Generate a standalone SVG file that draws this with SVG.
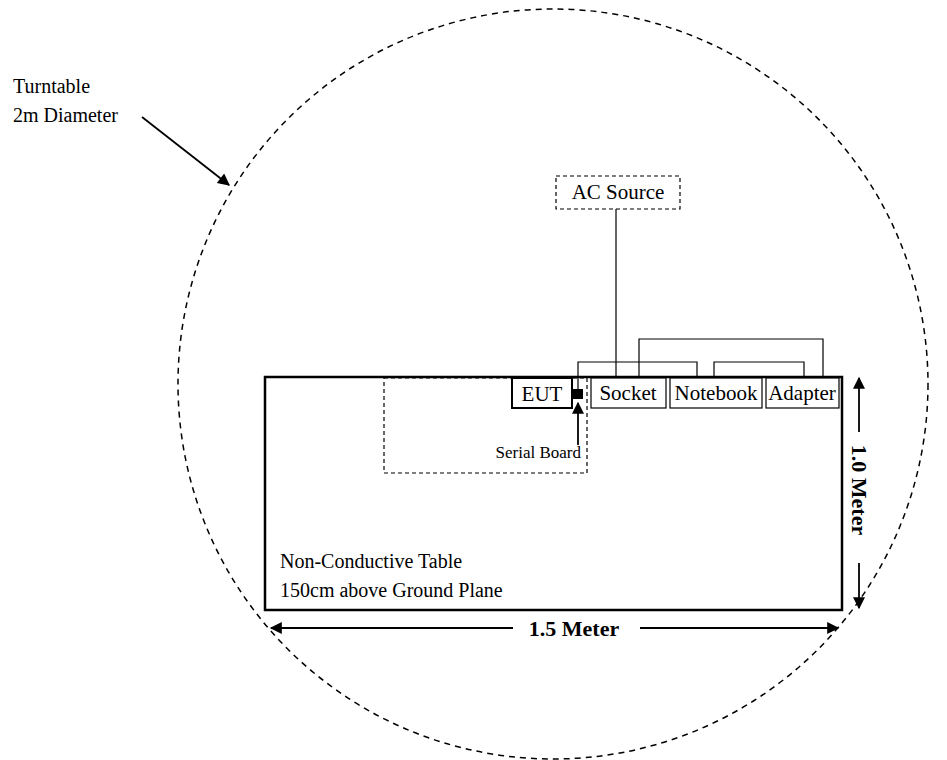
<svg xmlns="http://www.w3.org/2000/svg" width="947" height="760" viewBox="0 0 947 760">
<style>
text{font-family:"Liberation Serif","Times New Roman",serif;fill:#000}
.t{font-size:20px}
.l{font-size:21px}
.b{font-size:22px;font-weight:bold}
.box{fill:#fff;stroke:#000;stroke-width:1.2}
.dash{fill:none;stroke:#000;stroke-width:1.2;stroke-dasharray:4 3}
.w{fill:none;stroke:#000;stroke-width:1.2}
.arr{fill:none;stroke:#000;stroke-width:1.8}
</style>
<defs>
<marker id="ahb" viewBox="0 0 10 10" refX="9" refY="5" markerWidth="14" markerHeight="12" markerUnits="userSpaceOnUse" orient="auto">
<path d="M0,0 L10,5 L0,10 z" fill="#000"/>
</marker>
</defs>
<rect width="947" height="760" fill="#fff"/>
<g id="turntable">
<circle cx="553" cy="384" r="375" fill="none" stroke="#000" stroke-width="1.5" stroke-dasharray="6 5"/>
<text class="t" x="13" y="93">Turntable</text>
<text class="t" x="13" y="122">2m Diameter</text>
</g>
<g id="table">
<rect x="265" y="377" width="577" height="233" fill="none" stroke="#000" stroke-width="2.5"/>
<text class="t" x="280" y="568">Non-Conductive Table</text>
<text class="t" x="280" y="597">150cm above Ground Plane</text>
</g>
<g id="serial-board">
<rect class="dash" x="384" y="378" width="203" height="95"/>
<text x="581" y="458" font-size="17" text-anchor="end">Serial Board</text>
<rect x="573" y="389" width="10" height="10" fill="#000"/>
</g>
<g id="eut">
<rect x="512" y="378" width="60" height="30" fill="#fff" stroke="#000" stroke-width="2"/>
<text class="l" x="542" y="401" text-anchor="middle">EUT</text>
</g>
<g id="ac-source">
<rect class="dash" x="556" y="176" width="124" height="33" fill="#fff"/>
<text class="l" x="618" y="199" text-anchor="middle">AC Source</text>
</g>
<g id="socket">
<rect class="box" x="591" y="378" width="75" height="30"/>
<text class="l" x="628" y="400" text-anchor="middle">Socket</text>
</g>
<g id="notebook">
<rect class="box" x="670" y="378" width="92" height="30"/>
<text class="l" x="716" y="400" text-anchor="middle">Notebook</text>
</g>
<g id="adapter">
<rect class="box" x="766" y="378" width="73" height="30"/>
<text class="l" x="802" y="400" text-anchor="middle">Adapter</text>
</g>
<g id="connectors">
<path class="w" d="M616,209 V378"/>
<path class="w" d="M578,389 V362 H697 V378"/>
<path class="w" d="M639,378 V339 H823 V378"/>
<path class="w" d="M714,378 V362 H804 V378"/>
<path class="arr" d="M142,117 L229,185" marker-end="url(#ahb)"/>
<path class="arr" d="M578,445 V403" marker-end="url(#ahb)"/>
<path class="arr" d="M513,628 H271" marker-end="url(#ahb)"/>
<path class="arr" d="M640,628 H838" marker-end="url(#ahb)"/>
<path class="arr" d="M859,432 V378" marker-end="url(#ahb)"/>
<path class="arr" d="M859,563 V608" marker-end="url(#ahb)"/>
</g>
<g id="dimensions">
<text class="b" x="574" y="636" text-anchor="middle">1.5 Meter</text>
<text class="b" transform="translate(852,490) rotate(90)" text-anchor="middle">1.0 Meter</text>
</g>
</svg>
